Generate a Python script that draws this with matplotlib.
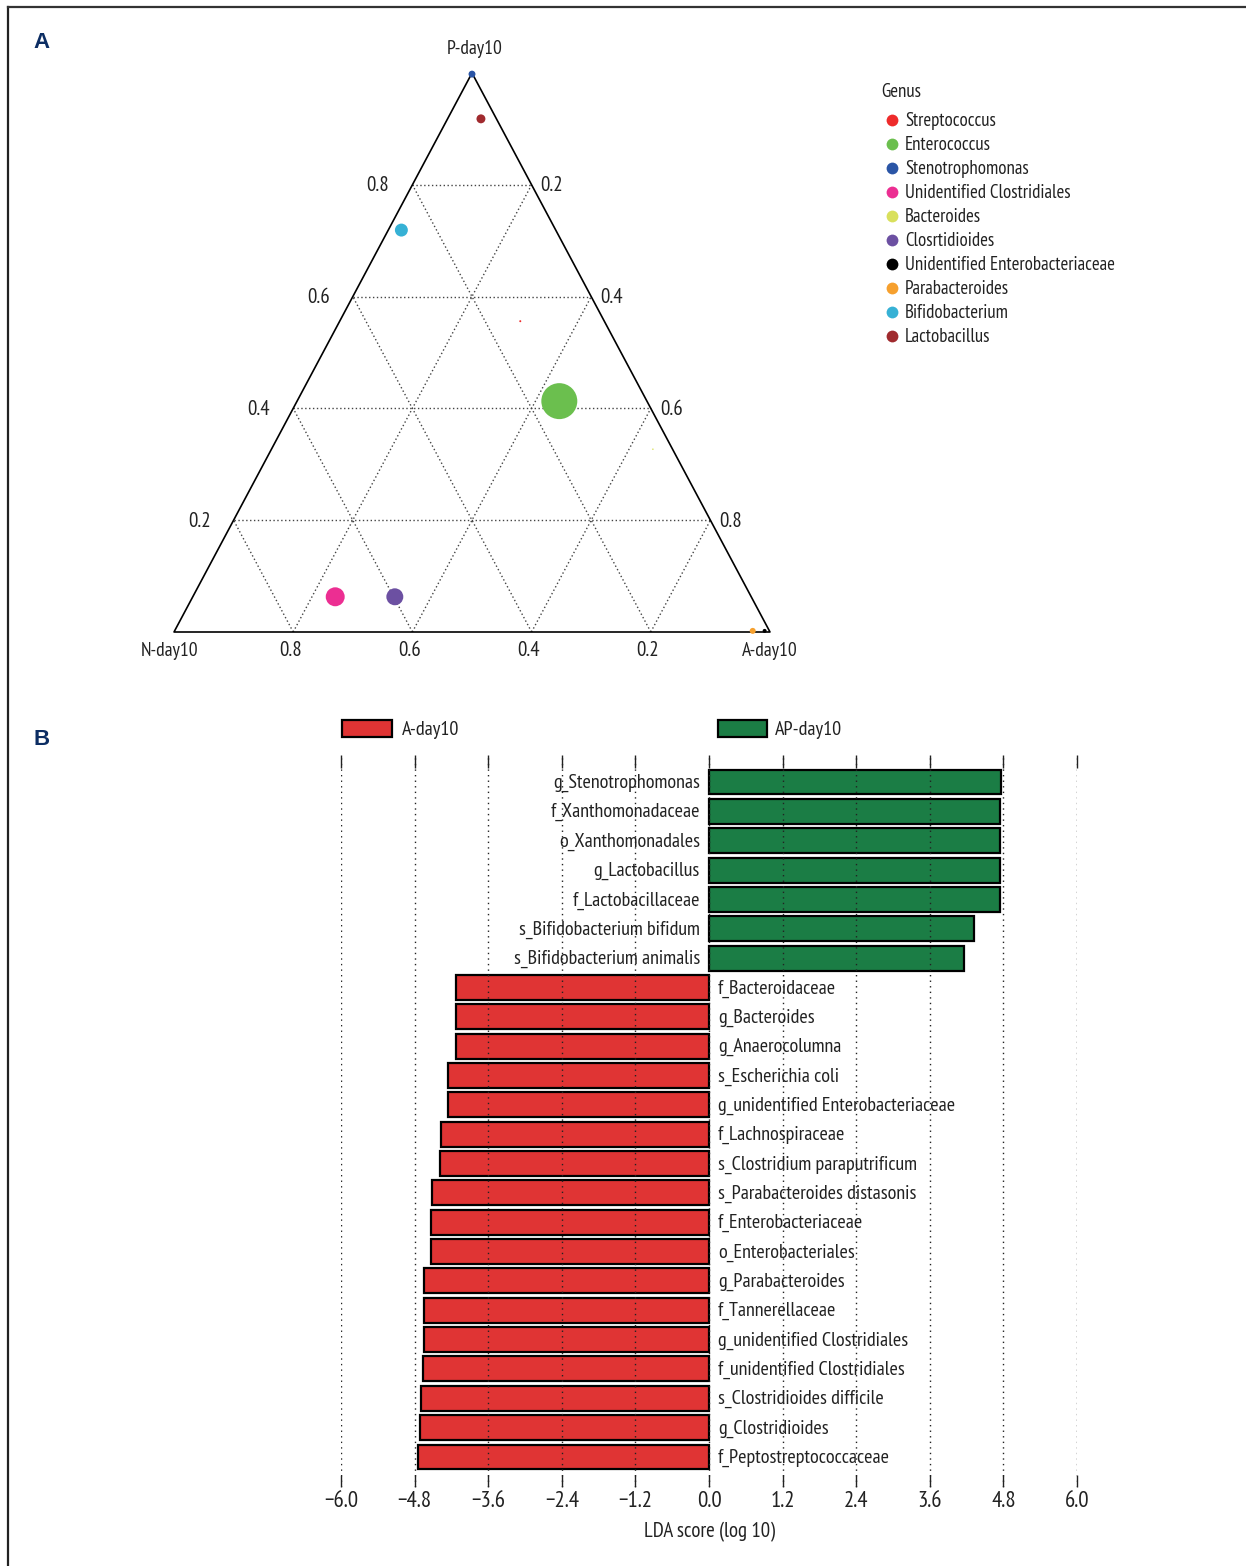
import matplotlib
matplotlib.use("Agg")
import matplotlib.pyplot as plt
from matplotlib.lines import Line2D
from matplotlib.patches import Rectangle
import numpy as np

plt.rcParams['font.family'] = ['PT Sans Narrow', 'Roboto Condensed', 'Fira Sans Condensed',
                               'Archivo Narrow', 'DejaVu Sans']

W, H = 1246, 1566

# ---------------- Panel A data: ternary composition per genus ----------------
genera = ['Streptococcus', 'Enterococcus', 'Stenotrophomonas', 'Unidentified Clostridiales',
          'Bacteroides', 'Closrtidioides', 'Unidentified Enterobacteriaceae', 'Parabacteroides',
          'Bifidobacterium', 'Lactobacillus']
genus_colors = ['#EE2B2B', '#6BBF4E', '#2A55A6', '#EC2E92', '#D9E05C', '#6C50A2',
                '#000000', '#F6A02E', '#36B1D5', '#A02A2E']
frac_P = [0.556, 0.413, 0.998, 0.063, 0.327, 0.063, 0.002, 0.002, 0.719, 0.918]
frac_A = [0.303, 0.440, 0.001, 0.239, 0.640, 0.339, 0.990, 0.970, 0.022, 0.056]
frac_N = [0.141, 0.147, 0.001, 0.698, 0.033, 0.598, 0.008, 0.028, 0.259, 0.026]
abundance = [0.1, 32.4, 1.2, 9.0, 0.06, 7.2, 0.4, 0.9, 4.2, 2.0]

vertex_labels = ['P-day10', 'N-day10', 'A-day10']
grid_levels = [0.2, 0.4, 0.6, 0.8]

# ---------------- Panel B data: LEfSe LDA scores ----------------
features = ['g_Stenotrophomonas', 'f_Xanthomonadaceae', 'o_Xanthomonadales', 'g_Lactobacillus',
            'f_Lactobacillaceae', 's_Bifidobacterium bifidum', 's_Bifidobacterium animalis',
            'f_Bacteroidaceae', 'g_Bacteroides', 'g_Anaerocolumna', 's_Escherichia coli',
            'g_unidentified Enterobacteriaceae', 'f_Lachnospiraceae',
            's_Clostridium paraputrificum', 's_Parabacteroides distasonis',
            'f_Enterobacteriaceae', 'o_Enterobacteriales', 'g_Parabacteroides',
            'f_Tannerellaceae', 'g_unidentified Clostridiales', 'f_unidentified Clostridiales',
            's_Clostridioides difficile', 'g_Clostridioides', 'f_Peptostreptococcaceae']
lda_scores = [4.76, 4.75, 4.74, 4.74, 4.74, 4.32, 4.16,
              -4.12, -4.12, -4.12, -4.26, -4.26, -4.37, -4.39, -4.52, -4.53, -4.53,
              -4.65, -4.65, -4.65, -4.66, -4.70, -4.71, -4.74]
group_names = ['A-day10', 'AP-day10']
group_colors = ['#E03434', '#1B7D45']
lda_ticks = [-6.0, -4.8, -3.6, -2.4, -1.2, 0.0, 1.2, 2.4, 3.6, 4.8, 6.0]

fig = plt.figure(figsize=(W / 100, H / 100), dpi=100)


def fx(px):
    return px / W


def fy(py):
    return 1 - py / H


# outer frame (left and top rules)
fig.add_artist(Line2D([fx(8), fx(8)], [fy(7), fy(1566)], color='#222222', lw=1.6))
fig.add_artist(Line2D([fx(8), fx(1246)], [fy(7), fy(7)], color='#333333', lw=1.6))

navy = '#0C2D63'
fig.text(fx(42), fy(42), 'A', fontsize=16, fontweight='bold', color=navy,
         family=['Liberation Sans', 'DejaVu Sans'], ha='center', va='center')
fig.text(fx(42), fy(739), 'B', fontsize=16, fontweight='bold', color=navy,
         family=['Liberation Sans', 'DejaVu Sans'], ha='center', va='center')

txt_col = '#222222'
fs = 14

# ---------------- Panel A: ternary plot ----------------
axT = fig.add_axes([fx(174), fy(632), (770 - 174) / W, (632 - 73) / H])
axT.set_xlim(0, 1)
axT.set_ylim(0, 1)
axT.axis('off')


def tern(P, A, N):
    P, A, N = np.asarray(P), np.asarray(A), np.asarray(N)
    s = P + A + N
    P, A = P / s, A / s
    return A + 0.5 * P, P


# grid lines
for c in grid_levels:
    for seg in [((c, 0, 1 - c), (c, 1 - c, 0)),      # constant P
                ((0, c, 1 - c), (1 - c, c, 0)),      # constant A
                ((0, 1 - c, c), (1 - c, 0, c))]:     # constant N
        xs, ys = tern([seg[0][0], seg[1][0]], [seg[0][1], seg[1][1]], [seg[0][2], seg[1][2]])
        axT.plot(xs, ys, color='#444444', lw=1.0, ls=(0, (1, 1.8)), zorder=1)

# triangle outline
tx, ty = tern([1, 0, 0, 1], [0, 0, 1, 0], [0, 1, 0, 0])
axT.plot(tx, ty, color='black', lw=1.2, zorder=2, clip_on=False)

# scale labels
tfs = 15
for c in grid_levels:
    x, y = tern(c, 0, 1 - c)
    axT.annotate(f'{c:.1f}', (x, y), xytext=(-23, -1), textcoords='offset pixels',
                 ha='right', va='center', fontsize=tfs, color=txt_col)
    x, y = tern(1 - c, c, 0)
    axT.annotate(f'{c:.1f}', (x, y), xytext=(9, -1), textcoords='offset pixels',
                 ha='left', va='center', fontsize=tfs, color=txt_col)
    x, y = tern(0, 1 - c, c)
    axT.annotate(f'{c:.1f}', (x, y), xytext=(-3, -19), textcoords='offset pixels',
                 ha='center', va='center', fontsize=tfs, color=txt_col)

for lab, (P, A, N), off in zip(vertex_labels,
                               [(1, 0, 0), (0, 0, 1), (0, 1, 0)],
                               [(3, 24), (-4, -19), (0, -19)]):
    x, y = tern(P, A, N)
    axT.annotate(lab, (x, y), xytext=off, textcoords='offset pixels',
                 ha='center', va='center', fontsize=fs, color=txt_col)

px_, py_ = tern(frac_P, frac_A, frac_N)
axT.scatter(px_, py_, s=np.array(abundance) * 20.7, c=genus_colors, linewidths=0,
            zorder=5, clip_on=False)

# genus legend
lfs = 13.6
fig.text(fx(881), fy(92), 'Genus', fontsize=lfs, ha='left', va='center', color=txt_col)
for i, (g, col) in enumerate(zip(genera, genus_colors)):
    yy = 120 + 24 * i
    fig.add_artist(Line2D([fx(892)], [fy(yy)], marker='o', markersize=8.5,
                          markerfacecolor=col, markeredgewidth=0, linestyle='none'))
    fig.text(fx(905), fy(yy + 1.5), g, fontsize=lfs, ha='left', va='center', color=txt_col)

# ---------------- Panel B: LDA bar chart ----------------
row_top, row_step = 782, (1457 - 782) / 23
ax_top, ax_bot = 755, 1487
axB = fig.add_axes([fx(341), fy(ax_bot), (1077 - 341) / W, (ax_bot - ax_top) / H])
n = len(features)
ypos = np.arange(n)
axB.set_xlim(-6.0, 6.0)
axB.set_ylim((ax_bot - row_top) / row_step, -(row_top - ax_top) / row_step)

bar_cols = [group_colors[1] if v > 0 else group_colors[0] for v in lda_scores]
axB.barh(ypos, lda_scores, height=0.85, color=bar_cols, edgecolor='black',
         linewidth=1.6, zorder=2)

for x in lda_ticks:
    axB.axvline(x, color='#222222', lw=1.0, ls=(0, (1, 3)), zorder=3)

for y, name, v in zip(ypos, features, lda_scores):
    if v > 0:
        axB.annotate(name, (0, y), xytext=(-9, -1), textcoords='offset pixels',
                     ha='right', va='center', fontsize=fs + 0.5, color=txt_col, zorder=4)
    else:
        axB.annotate(name, (0, y), xytext=(9, -1), textcoords='offset pixels',
                     ha='left', va='center', fontsize=fs + 0.5, color=txt_col, zorder=4)

for s in axB.spines.values():
    s.set_visible(False)
axB.set_yticks([])
axB.set_xticks(lda_ticks)
axB.set_xticklabels([f'{t:.1f}'.replace('-', '\u2212') for t in lda_ticks])
axB.tick_params(axis='x', which='both', direction='in', length=9, width=1.0,
                top=True, bottom=True, labelsize=16.5, pad=3, colors=txt_col)
axB.set_xlabel('LDA score (log 10)', fontsize=fs + 1, labelpad=7, color=txt_col)

# group legend
for (x0, x1, txt_x), name, col in zip([(342, 392, 402), (718, 767, 775)], group_names,
                                      group_colors):
    fig.add_artist(Rectangle((fx(x0), fy(737)), fx(x1 - x0), (737 - 720) / H,
                             facecolor=col, edgecolor='black', linewidth=1.6))
    fig.text(fx(txt_x), fy(730), name, fontsize=fs + 0.5, ha='left', va='center',
             color=txt_col)

fig.savefig('out.png', dpi=100)
